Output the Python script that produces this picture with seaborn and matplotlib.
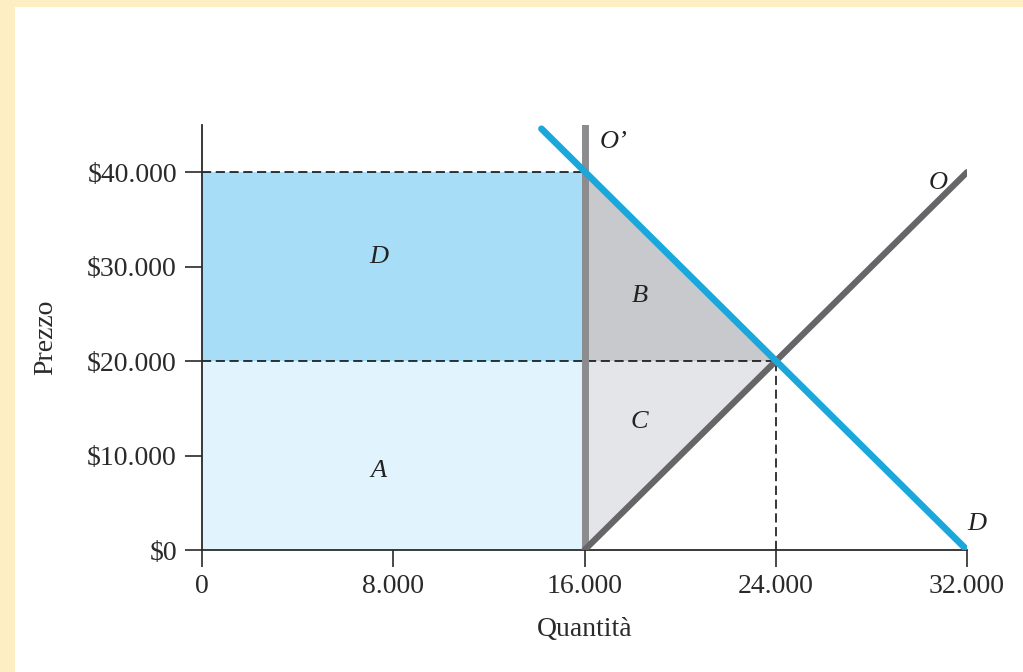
import matplotlib
matplotlib.use("Agg")
import matplotlib.pyplot as plt
import seaborn as sns
import pandas as pd
from matplotlib.patches import Rectangle

# Dati
demand_q = [14200, 32000]
demand_p = [44600, 0]
supply_q = [16000, 32000]
supply_p = [0, 40000]
quota_q = [16000, 16000]
quota_p = [0, 45000]

area_D = [(0, 20000), (16000, 20000), (16000, 40000), (0, 40000)]
area_A = [(0, 0), (16000, 0), (16000, 20000), (0, 20000)]
area_B = [(16000, 20000), (16000, 40000), (24000, 20000)]
area_C = [(16000, 0), (16000, 20000), (24000, 20000)]

x_ticks = [0, 8000, 16000, 24000, 32000]
x_labels = ["0", "8.000", "16.000", "24.000", "32.000"]
y_ticks = [0, 10000, 20000, 30000, 40000]
y_labels = ["$0", "$10.000", "$20.000", "$30.000", "$40.000"]

sns.set_style("white")
plt.rcParams["font.family"] = ["Liberation Serif", "DejaVu Serif"]

fig = plt.figure(figsize=(10.23, 6.72), dpi=100, facecolor="#fdefc3")
fig.patches.append(Rectangle((15 / 1023, 0), 1, 1 - 7 / 672, transform=fig.transFigure,
                             facecolor="white", edgecolor="none", zorder=-10))
ax = fig.add_axes([202 / 1023, 1 - 550 / 672, 765 / 1023, 425 / 672])
ax.set_facecolor("none")

# aree
for pts, col in [(area_D, "#a7ddf6"), (area_A, "#e1f3fc"), (area_B, "#c8c9cc"), (area_C, "#e4e5e8")]:
    xs, ys = zip(*pts)
    ax.fill(xs, ys, color=col, lw=0, zorder=1)

# linee tratteggiate
ax.plot([0, 16000], [40000, 40000], color="black", lw=1.1, ls=(0, (6, 3)), zorder=2)
ax.plot([0, 24000], [20000, 20000], color="black", lw=1.1, ls=(0, (6, 3)), zorder=2)
ax.plot([24000, 24000], [0, 20000], color="black", lw=1.1, ls=(0, (6, 3)), zorder=2)

df_o = pd.DataFrame({"q": supply_q, "p": supply_p})
df_d = pd.DataFrame({"q": demand_q, "p": demand_p})
df_q = pd.DataFrame({"q": quota_q, "p": quota_p})
sns.lineplot(data=df_q, x="q", y="p", ax=ax, color="#8c8c8e", lw=5, sort=False,
             estimator=None, zorder=3)
sns.lineplot(data=df_o, x="q", y="p", ax=ax, color="#666668", lw=4.5, sort=False,
             estimator=None, zorder=4)
sns.lineplot(data=df_d, x="q", y="p", ax=ax, color="#1aa7dc", lw=4.8, sort=False,
             estimator=None, zorder=5)

lab = dict(fontsize=19, fontstyle="italic", color="#222222", ha="center", va="center", zorder=6)
ax.text(7400, 31000, "D", **lab)
ax.text(7400, 8400, "A", **lab)
ax.text(18300, 26900, "B", **lab)
ax.text(18300, 13600, "C", **lab)
ax.text(17200, 43200, "O\u2019", **lab)
ax.text(30800, 38900, "O", **lab)
ax.text(32400, 2800, "D", **lab)

ax.set_xlim(0, 32000)
ax.set_ylim(0, 45000)
ax.set_xticks(x_ticks)
ax.set_xticklabels(x_labels)
ax.set_yticks(y_ticks)
ax.set_yticklabels(y_labels)
ax.tick_params(axis="both", bottom=True, left=True, direction="out", length=12,
               width=1.2, labelsize=20, colors="#2a2a2a", pad=6)
ax.tick_params(axis="x", pad=5)
for s in ["top", "right"]:
    ax.spines[s].set_visible(False)
for s in ["left", "bottom"]:
    ax.spines[s].set_linewidth(1.3)
    ax.spines[s].set_color("#2a2a2a")
ax.set_xlabel("Quantità", fontsize=20, color="#2a2a2a", labelpad=13)
ax.set_ylabel("Prezzo", fontsize=20, color="#2a2a2a", labelpad=21)

fig.savefig("out.png", dpi=100, facecolor=fig.get_facecolor())
